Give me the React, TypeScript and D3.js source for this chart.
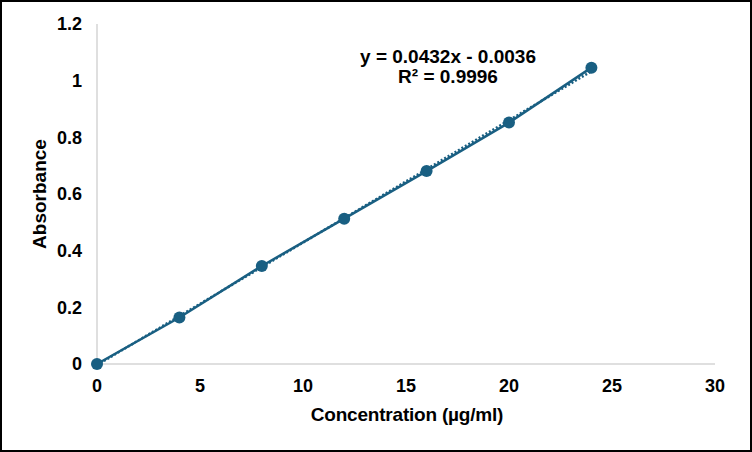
import React from "react";
import * as d3 from "d3";

const concentrations = [0, 4, 8, 12, 16, 20, 24];
const absorbances = [0, 0.164, 0.346, 0.513, 0.681, 0.852, 1.046];
const xTicks = [0, 5, 10, 15, 20, 25, 30];
const yTicks = [0, 0.2, 0.4, 0.6, 0.8, 1, 1.2];
const slope = 0.0432;
const intercept = -0.0036;
const equationLabel = "y = 0.0432x - 0.0036";
const r2Label = "R² = 0.9996";
const xTitle = "Concentration (µg/ml)";
const yTitle = "Absorbance";

const W = 752;
const H = 452;
const color = "#195f82";
const font = "'Liberation Sans', Arial, sans-serif";

export default function App() {
  const x = d3.scaleLinear().domain([0, 30]).range([97, 715]);
  const y = d3.scaleLinear().domain([0, 1.2]).range([364, 24]);
  const pts = concentrations.map((c, i) => [c, absorbances[i]] as [number, number]);
  const line = d3
    .line<[number, number]>()
    .x((d) => x(d[0]))
    .y((d) => y(d[1]));
  const trendX = [0, 24];
  const trend = trendX.map((c) => [c, slope * c + intercept] as [number, number]);

  return (
    <svg
      width={W}
      height={H}
      style={{ position: "absolute", left: 0, top: 0, background: "#fff" }}
      fontFamily={font}
    >
      <rect x={1} y={1} width={W - 2} height={H - 2} fill="#fff" stroke="#000" strokeWidth={2} />
      {/* axes */}
      <line x1={x(0)} x2={x(0)} y1={y(1.2)} y2={y(0)} stroke="#bfbfbf" strokeWidth={1} />
      <line x1={x(0)} x2={x(30)} y1={y(0)} y2={y(0)} stroke="#bfbfbf" strokeWidth={1} />
      {yTicks.map((t) => (
        <text
          key={"y" + t}
          x={82}
          y={y(t)}
          dy="0.36em"
          textAnchor="end"
          fontSize={18}
          fontWeight="bold"
          fill="#000"
        >
          {String(t)}
        </text>
      ))}
      {xTicks.map((t) => (
        <text
          key={"x" + t}
          x={x(t)}
          y={392}
          textAnchor="middle"
          fontSize={18}
          fontWeight="bold"
          fill="#000"
        >
          {String(t)}
        </text>
      ))}
      <text
        x={407}
        y={421}
        textAnchor="middle"
        fontSize={19}
        fontWeight="bold"
        fill="#000"
        letterSpacing={-0.2}
      >
        {xTitle}
      </text>
      <text
        transform={`translate(46, 194) rotate(-90)`}
        textAnchor="middle"
        fontSize={19}
        fontWeight="bold"
        fill="#000"
      >
        {yTitle}
      </text>
      {/* trendline */}
      <path d={line(trend) || ""} fill="none" stroke={color} strokeWidth={2.5} strokeDasharray="2 2" />
      {/* series */}
      <path d={line(pts) || ""} fill="none" stroke={color} strokeWidth={2.5} />
      {pts.map((p, i) => (
        <circle key={i} cx={x(p[0])} cy={y(p[1])} r={6} fill={color} />
      ))}
      <text x={448} y={63} textAnchor="middle" fontSize={19} fontWeight="bold" fill="#000">
        {equationLabel}
      </text>
      <text x={448} y={83} textAnchor="middle" fontSize={19} fontWeight="bold" fill="#000">
        {r2Label}
      </text>
    </svg>
  );
}
